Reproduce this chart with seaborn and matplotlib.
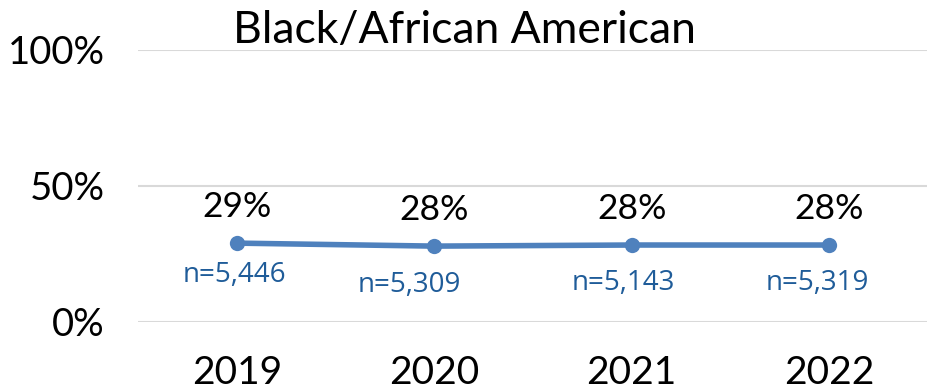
import matplotlib
matplotlib.use("Agg")
import matplotlib.pyplot as plt
import seaborn as sns
import pandas as pd

years = ["2019", "2020", "2021", "2022"]
shares = [29.0, 27.9, 28.3, 28.3]
pct_labels = ["29%", "28%", "28%", "28%"]
n_labels = ["n=5,446", "n=5,309", "n=5,143", "n=5,319"]
y_ticks = [0, 50, 100]
y_tick_labels = ["0%", "50%", "100%"]

# hand-placed sample-size labels, pixel offsets from each point
n_dx = [-2, -25, -8, -12]
n_dy = [-39, -46, -45, -45]

DPI = 100
PT = 72 / DPI

sns.set_theme(style="white")
plt.rcParams["font.family"] = ["Lato", "DejaVu Sans"]

df = pd.DataFrame({"year": years, "share": shares})

fig = plt.figure(figsize=(9.28, 3.9), dpi=DPI)
ax = fig.add_axes([138 / 928, 1 - 322 / 390, (928 - 138) / 928, 272 / 390])

sns.lineplot(data=df, x="year", y="share", ax=ax, color="#4F81BD", linewidth=4,
             marker="o", markersize=11, markeredgewidth=0, sort=False)

ax.set_xlim(-0.5, 3.5)
ax.set_ylim(0, 100)
ax.set_yticks(y_ticks)
ax.set_yticklabels(y_tick_labels, fontsize=27.5)
ax.tick_params(axis="y", length=0, pad=24)
ax.tick_params(axis="x", length=0, pad=24, labelsize=28)
for lbl in ax.get_xticklabels() + ax.get_yticklabels():
    lbl.set_color("black")
ax.set_xlabel("")
ax.set_ylabel("")
ax.grid(axis="y", color="#D9D9D9", linewidth=1.5)
ax.grid(axis="x", visible=False)
for s in ax.spines.values():
    s.set_visible(False)

for i, (v, p, n) in enumerate(zip(shares, pct_labels, n_labels)):
    ax.annotate(p, (i, v), xytext=(0, 26 * PT), textcoords="offset points",
                ha="center", va="baseline", fontsize=25.5, color="black")
    ax.annotate(n, (i, v), xytext=(n_dx[i] * PT, n_dy[i] * PT),
                textcoords="offset points", ha="center", va="baseline",
                fontsize=20, color="#1F5C99",
                family=["Open Sans", "DejaVu Sans"])

fig.text(464 / 928, 1 - 43 / 390, "Black/African American", ha="center",
         va="baseline", fontsize=32, color="black")

fig.savefig("out.png", dpi=DPI)
